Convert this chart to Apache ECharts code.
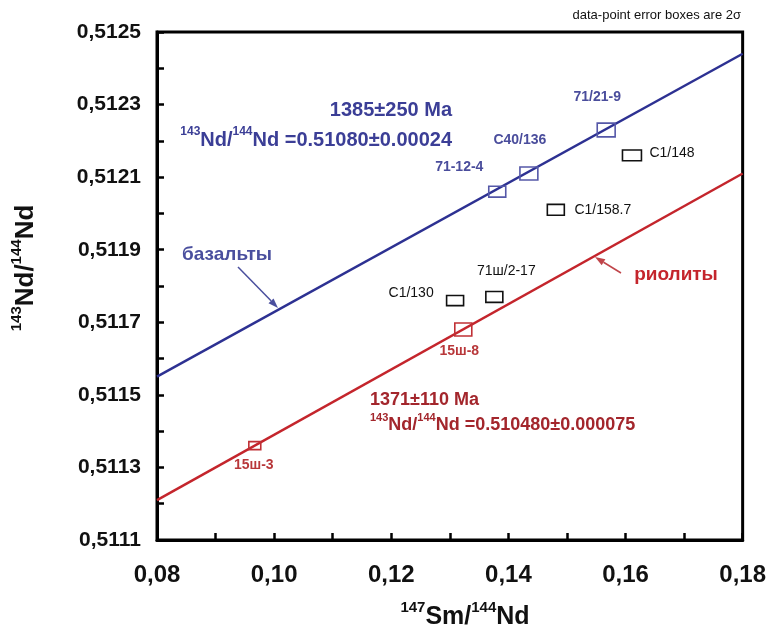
<!DOCTYPE html>
<html><head><meta charset="utf-8">
<script src="https://cdn.jsdelivr.net/npm/echarts@6/dist/echarts.min.js"></script>
<style>html,body{margin:0;padding:0;background:#fff}#c{width:769px;height:630px}</style>
</head><body><div id="c"></div>
<script>
// ---- data ----
const basaltNames = ['71-12-4', 'C40/136', '71/21-9'];
const basaltX = [0.1381, 0.1435, 0.1567];
const basaltY = [0.51206, 0.51211, 0.51223];
const basaltEx = [0.00145, 0.00153, 0.00153];
const basaltEy = [0.000015, 0.000018, 0.000019];

const otherNames = ['C1/148', 'C1/158.7', 'C1/130', '71ш/2-17'];
const otherX = [0.1611, 0.1481, 0.1309, 0.1376];
const otherY = [0.51216, 0.51201, 0.51176, 0.51177];
const otherEx = [0.00162, 0.00145, 0.00145, 0.00145];
const otherEy = [0.000015, 0.000015, 0.000014, 0.000015];

const rhyoNames = ['15ш-8', '15ш-3'];
const rhyoX = [0.1323, 0.0967];
const rhyoY = [0.51168, 0.51136];
const rhyoEx = [0.00145, 0.00102];
const rhyoEy = [0.000018, 0.000011];

const isoX = [0.08, 0.18];
const basaltIsoY = [0.51155, 0.51244];
const rhyoIsoY = [0.51121, 0.51211];

const xTicks = ['0,08', '0,10', '0,12', '0,14', '0,16', '0,18'];
const yTicks = ['0,5111', '0,5113', '0,5115', '0,5117', '0,5119', '0,5121', '0,5123', '0,5125'];

// ---- styles / layout (not data) ----
const FONT = 'Liberation Sans, Arial, sans-serif';
const BLUE = '#2d3192', RED = '#c4252c';
const basaltOff = [[-38, -25], [-9, -33], [-9, -33]];
const otherOff = [[40, -2], [47, 0], [-44, -7], [12, -26]];
const rhyoOff = [[-4, 22], [-1, 19]];

function boxSeries(names, xs, ys, exs, eys, offs, boxColor, textColor, weight) {
  return {
    type: 'custom',
    data: xs.map((x, i) => [x, ys[i], exs[i], eys[i], i]),
    renderItem: function (params, api) {
      const x = api.value(0), y = api.value(1), ex = api.value(2), ey = api.value(3), i = api.value(4);
      const p1 = api.coord([x - ex, y + ey]);
      const p2 = api.coord([x + ex, y - ey]);
      const c = api.coord([x, y]);
      return {
        type: 'group',
        children: [
          { type: 'rect', shape: { x: p1[0], y: p1[1], width: p2[0] - p1[0], height: p2[1] - p1[1] },
            style: { fill: 'rgba(0,0,0,0)', stroke: boxColor, lineWidth: 1.6 } },
          { type: 'text', x: c[0] + offs[i][0], y: c[1] + offs[i][1],
            style: { text: names[i], fill: textColor, font: weight + ' 14px ' + FONT, align: 'center', verticalAlign: 'middle' } }
        ]
      };
    },
    z: 5
  };
}

function arrow(x1, y1, x2, y2, color) {
  const a = Math.atan2(y2 - y1, x2 - x1), L = 10, W = 3.5;
  const bx = x2 - L * Math.cos(a), by = y2 - L * Math.sin(a);
  return {
    type: 'group', children: [
      { type: 'line', shape: { x1: x1, y1: y1, x2: bx, y2: by }, style: { stroke: color, lineWidth: 1.5 } },
      { type: 'polygon', shape: { points: [[x2, y2], [bx - W * Math.sin(a), by + W * Math.cos(a)], [bx + W * Math.sin(a), by - W * Math.cos(a)]] },
        style: { fill: color } }
    ]
  };
}

function supText(parts, main, sup, color) {
  return {
    text: parts,
    rich: {
      s: { fontSize: sup, fontWeight: 'bold', fontFamily: FONT, fill: color, verticalAlign: 'top', lineHeight: sup + 2 },
      m: { fontSize: main, fontWeight: 'bold', fontFamily: FONT, fill: color, verticalAlign: 'bottom', lineHeight: main + 4 }
    }
  };
}

const chart = echarts.init(document.getElementById('c'), null, { renderer: 'canvas' });
chart.setOption({
  backgroundColor: '#fff',
  animation: false,
  grid: { left: 157, right: 25, top: 32, bottom: 90, show: true, borderColor: '#000', borderWidth: 3 },
  xAxis: {
    type: 'value', min: 0.08, max: 0.18, interval: 0.01,
    splitLine: { show: false },
    axisLine: { lineStyle: { color: '#000', width: 3 } },
    axisTick: { inside: true, length: 7, lineStyle: { color: '#000', width: 2.5 } },
    axisLabel: {
      interval: 0, margin: 23, color: '#111', fontSize: 24, fontWeight: 'bold', fontFamily: FONT,
      formatter: function (v) { const n = Math.round(v * 100); return n % 2 === 0 ? xTicks[(n - 8) / 2] : ''; }
    }
  },
  yAxis: {
    type: 'value', min: 0.5111, max: 0.5125, interval: 0.0001,
    splitLine: { show: false },
    axisLine: { lineStyle: { color: '#000', width: 3 } },
    axisTick: { inside: true, length: 7, lineStyle: { color: '#000', width: 2.5 } },
    axisLabel: {
      interval: 0, margin: 16, color: '#111', fontSize: 21, fontWeight: 'bold', fontFamily: FONT,
      formatter: function (v) { const n = Math.round(v * 10000); return n % 2 === 1 ? yTicks[(n - 5111) / 2] : ''; }
    }
  },
  series: [
    { type: 'line', data: isoX.map((x, i) => [x, basaltIsoY[i]]), showSymbol: false, lineStyle: { color: BLUE, width: 2.5 }, z: 3 },
    { type: 'line', data: isoX.map((x, i) => [x, rhyoIsoY[i]]), showSymbol: false, lineStyle: { color: RED, width: 2.5 }, z: 3 },
    boxSeries(basaltNames, basaltX, basaltY, basaltEx, basaltEy, basaltOff, '#5558a8', '#4a4d9c', 'bold'),
    boxSeries(otherNames, otherX, otherY, otherEx, otherEy, otherOff, '#111', '#111', 'normal'),
    boxSeries(rhyoNames, rhyoX, rhyoY, rhyoEx, rhyoEy, rhyoOff, '#c03035', '#b8373a', 'bold')
  ],
  graphic: [
    { type: 'text', x: 741, y: 15, style: { text: 'data-point error boxes are 2σ', font: '13px ' + FONT, fill: '#111', align: 'right', verticalAlign: 'middle' } },
    { type: 'text', x: 452, y: 110, style: { text: '1385±250 Ma', font: 'bold 20px ' + FONT, fill: '#3b3e96', align: 'right', verticalAlign: 'middle' } },
    { type: 'text', x: 452, y: 138, style: Object.assign(supText('{s|143}{m|Nd/}{s|144}{m|Nd =0.51080±0.00024}', 20, 12, '#3b3e96'), { align: 'right', verticalAlign: 'middle' }) },
    { type: 'text', x: 370, y: 400, style: { text: '1371±110 Ma', font: 'bold 18px ' + FONT, fill: '#a3262c', align: 'left', verticalAlign: 'middle' } },
    { type: 'text', x: 370, y: 423, style: Object.assign(supText('{s|143}{m|Nd/}{s|144}{m|Nd =0.510480±0.000075}', 18, 11, '#a3262c'), { align: 'left', verticalAlign: 'middle' }) },
    { type: 'text', x: 227, y: 255, style: { text: 'базальты', font: 'bold 19px ' + FONT, fill: '#4a4f9e', align: 'center', verticalAlign: 'middle' } },
    arrow(238, 267, 278, 308, '#4a4f9e'),
    { type: 'text', x: 676, y: 275, style: { text: 'риолиты', font: 'bold 19px ' + FONT, fill: RED, align: 'center', verticalAlign: 'middle' } },
    arrow(621, 273, 595, 257, '#c0454a'),
    { type: 'text', x: 465, y: 615, style: Object.assign(supText('{s|147}{m|Sm/}{s|144}{m|Nd}', 25, 15, '#111'), { align: 'center', verticalAlign: 'middle' }) },
    { type: 'text', x: 24, y: 268, rotation: Math.PI / 2, style: Object.assign(supText('{s|143}{m|Nd/}{s|144}{m|Nd}', 26, 15, '#111'), { align: 'center', verticalAlign: 'middle' }) }
  ]
});
</script></body></html>
